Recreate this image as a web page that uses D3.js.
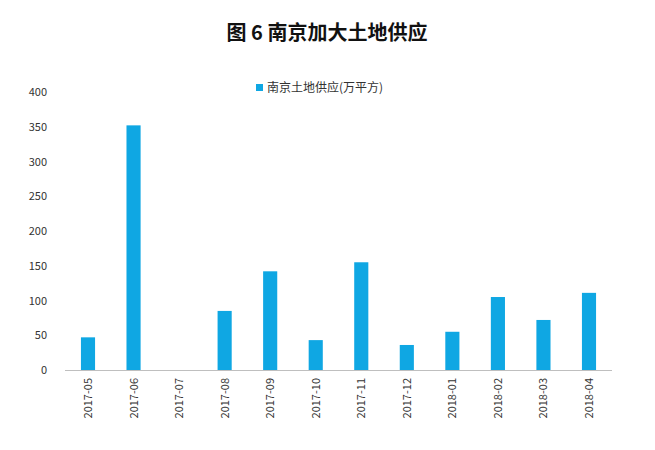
<!DOCTYPE html>
<html><head><meta charset="utf-8">
<script src="https://cdn.jsdelivr.net/npm/d3@7"></script>
<style>body{margin:0;background:#fff}</style></head>
<body><svg id="c" width="655" height="450"></svg>
<script>
const categories=["2017-05","2017-06","2017-07","2017-08","2017-09","2017-10","2017-11","2017-12","2018-01","2018-02","2018-03","2018-04"];
const values=[47,352,0,85,142,43,155,36,55,105,72,111];
const yTicks=[0,50,100,150,200,250,300,350,400];
const svg=d3.select("#c");
const font="'Noto Sans CJK SC','Microsoft YaHei',sans-serif";
const x=d3.scaleBand().domain(categories).range([65,612]).paddingInner(0.69).paddingOuter(0.35);
const y=d3.scaleLinear().domain([0,400]).range([370,92]);
svg.append("text").attr("x",327).attr("y",40).attr("text-anchor","middle").attr("font-family",font).attr("font-weight","bold").attr("font-size",20).attr("fill","#111").text("图 6 南京加大土地供应");
svg.selectAll("rect.b").data(values).join("rect").attr("class","b")
 .attr("x",(d,i)=>x(categories[i])).attr("width",x.bandwidth())
 .attr("y",d=>y(d)).attr("height",d=>370-y(d)).attr("fill","#0fa7e3");
svg.append("line").attr("x1",65).attr("x2",612).attr("y1",370.5).attr("y2",370.5).attr("stroke","#bfbfbf");
svg.selectAll("text.yt").data(yTicks).join("text").attr("class","yt")
 .attr("x",47).attr("y",d=>y(d)+4).attr("text-anchor","end").attr("font-family",font).attr("font-size",11).attr("fill","#333").text(d=>d);
svg.selectAll("text.xt").data(categories).join("text").attr("class","xt")
 .attr("transform",d=>`translate(${x(d)+x.bandwidth()/2+4},378) rotate(-90)`)
 .attr("text-anchor","end").attr("font-family",font).attr("font-size",11).attr("fill","#333").text(d=>d);
svg.append("rect").attr("x",256).attr("y",84).attr("width",7).attr("height",7).attr("fill","#0fa7e3");
svg.append("text").attr("x",267).attr("y",92).attr("font-family",font).attr("font-size",12).attr("fill","#333").text("南京土地供应(万平方)");
</script></body></html>
